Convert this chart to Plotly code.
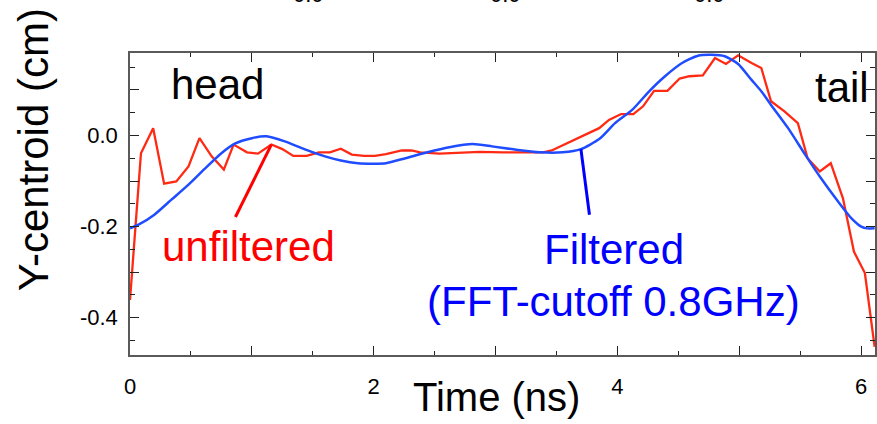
import plotly.graph_objects as go

# ---- data ----
t_unfiltered = [0.0, 0.09, 0.19, 0.28, 0.38, 0.48, 0.57, 0.67, 0.77, 0.85, 0.96, 1.05, 1.16, 1.25,
                1.34, 1.45, 1.55, 1.64, 1.73, 1.82, 1.92, 2.01, 2.10, 2.23, 2.31, 2.38, 2.54, 2.76,
                2.87, 3.06, 3.39, 3.46, 3.66, 3.85, 3.93, 4.03, 4.13, 4.21, 4.30, 4.41, 4.51, 4.59,
                4.70, 4.80, 4.89, 4.99, 5.10, 5.18, 5.26, 5.37, 5.48, 5.56, 5.66, 5.75, 5.85, 5.94,
                6.03, 6.11]
y_unfiltered = [-0.361, -0.039, 0.016, -0.106, -0.101, -0.068, -0.006, -0.046, -0.075, -0.020,
                -0.037, -0.040, -0.020, -0.030, -0.045, -0.045, -0.037, -0.037, -0.029, -0.042,
                -0.045, -0.045, -0.041, -0.033, -0.033, -0.037, -0.040, -0.037, -0.036, -0.037,
                -0.037, -0.033, -0.008, 0.016, 0.034, 0.047, 0.047, 0.064, 0.098, 0.098, 0.125,
                0.130, 0.132, 0.170, 0.157, 0.176, 0.159, 0.148, 0.075, 0.053, 0.027, -0.050,
                -0.079, -0.061, -0.138, -0.255, -0.302, -0.464]

t_filtered = [0.0, 0.07, 0.20, 0.34, 0.48, 0.61, 0.75, 0.86, 1.0, 1.12, 1.27, 1.43, 1.60, 1.73,
              1.87, 2.0, 2.10, 2.26, 2.44, 2.62, 2.81, 2.97, 3.16, 3.36, 3.55, 3.70, 3.85, 3.98,
              4.12, 4.26, 4.39, 4.53, 4.66, 4.77, 4.88, 4.99, 5.10, 5.18, 5.26, 5.40, 5.54, 5.67,
              5.81, 5.92, 6.0, 6.05, 6.11]
y_filtered = [-0.204, -0.196, -0.174, -0.141, -0.108, -0.074, -0.039, -0.018, -0.006, -0.002,
              -0.013, -0.030, -0.046, -0.055, -0.061, -0.062, -0.061, -0.050, -0.037, -0.026,
              -0.019, -0.024, -0.031, -0.037, -0.037, -0.030, -0.008, 0.027, 0.056, 0.097, 0.130,
              0.159, 0.175, 0.177, 0.174, 0.157, 0.122, 0.097, 0.067, 0.016, -0.042, -0.094,
              -0.145, -0.182, -0.200, -0.204, -0.204]

x_tickvals = [0, 1, 2, 3, 4, 5, 6]
x_ticktext = ["0", "", "2", "", "4", "", "6"]
y_tickvals = [0.1, 0.0, -0.1, -0.2, -0.3, -0.4]
y_ticktext = ["", "0.0", "", "-0.2", "", "-0.4"]

# pointer lines (data coordinates)
red_pointer = [(0.865, -0.179), (1.16, -0.020)]
blue_pointer = [(3.70, -0.030), (3.77, -0.174)]

RED_LINE = "#ff2a14"
BLUE_LINE = "#1f4cff"
FONT = "Liberation Sans, Arial, sans-serif"

fig = go.Figure()
fig.add_trace(go.Scatter(x=t_unfiltered, y=y_unfiltered, mode="lines",
                         line=dict(color=RED_LINE, width=2.3), showlegend=False))
fig.add_trace(go.Scatter(x=t_filtered, y=y_filtered, mode="lines",
                         line=dict(color=BLUE_LINE, width=2.5, shape="spline", smoothing=0.6),
                         showlegend=False))

fig.add_shape(type="line", x0=red_pointer[0][0], y0=red_pointer[0][1],
              x1=red_pointer[1][0], y1=red_pointer[1][1], line=dict(color="#ff0000", width=3))
fig.add_shape(type="line", x0=blue_pointer[0][0], y0=blue_pointer[0][1],
              x1=blue_pointer[1][0], y1=blue_pointer[1][1], line=dict(color="#0000ff", width=3))

def ann(text, x, y, color="black", size=42, xanchor="center", yanchor="middle", **kw):
    fig.add_annotation(text=text, x=x, y=y, showarrow=False, xanchor=xanchor, yanchor=yanchor,
                       font=dict(family=FONT, size=size, color=color), **kw)

ann("head", 0.716, 0.112)
ann("tail", 5.84, 0.105)
ann("unfiltered", 0.974, -0.243, color="#ff0000")
ann("Filtered", 3.97, -0.251, color="#0000ff", size=42)
ann("(FFT-cutoff 0.8GHz)", 3.97, -0.364, color="#0000ff", size=42)
ann("Time (ns)", (497 - 130) / 747, (355 - 397) / 302, size=40, xref="paper", yref="paper")
ann("Y-centroid (cm)", (33 - 130) / 747, (355 - 150) / 302, size=42, xref="paper",
    yref="paper", textangle=-90)
# bottoms of tick labels from a panel above, cut by the picture edge
for px in [309, 507, 711]:
    ann("0.0", (px - 130) / 747, (355 - 9) / 302, size=22, xref="paper", yref="paper",
        yanchor="bottom")

axis_common = dict(showline=True, linecolor="#5a5a5a", linewidth=1.5, mirror="allticks",
                   ticks="inside", tickcolor="#222222", showgrid=False, zeroline=False,
                   tickfont=dict(family=FONT, size=22, color="black"))

fig.update_xaxes(range=[0, 6.113], tickmode="array", tickvals=x_tickvals, ticktext=x_ticktext,
                 ticklen=9, tickwidth=1.3, ticklabelstandoff=11,
                 minor=dict(ticks="inside", ticklen=4, dtick=0.5, tick0=0, tickcolor="#222222",
                            tickwidth=1.2),
                 **axis_common)
fig.update_yaxes(range=[-0.482, 0.181], tickmode="array", tickvals=y_tickvals,
                 ticktext=y_ticktext, ticklen=9, tickwidth=1.3, ticklabelstandoff=6,
                 minor=dict(ticks="inside", ticklen=5, dtick=0.05, tick0=0, tickcolor="#222222",
                            tickwidth=1.2),
                 **axis_common)

fig.update_layout(width=877, height=424, margin=dict(l=130, r=0, t=53, b=69),
                  plot_bgcolor="white", paper_bgcolor="white", font=dict(family=FONT))

fig.write_html("out.html", config={"displayModeBar": False},
               post_script="document.body.style.margin='0';document.body.style.overflow='hidden';")
